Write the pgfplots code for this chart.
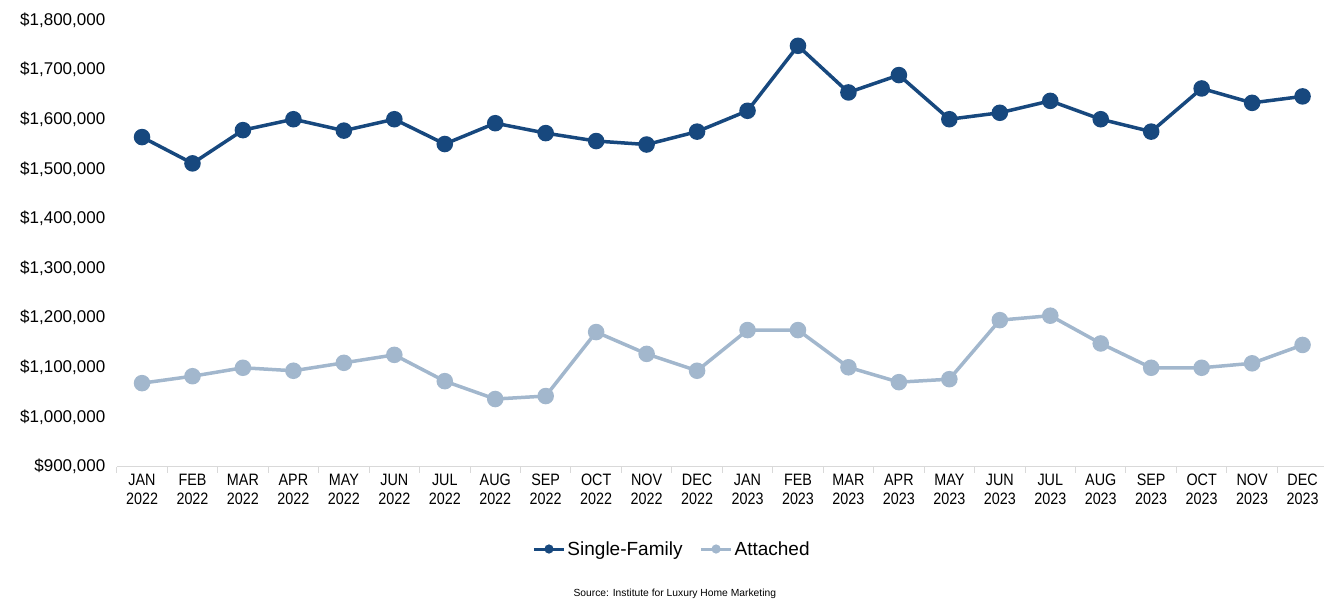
\documentclass[border=0pt]{standalone}
\usepackage{pgfplots}
\pgfplotsset{compat=1.18}
\usepackage{fontspec}
\setmainfont{Liberation Sans}
\definecolor{sfblue}{RGB}{23,72,126}
\definecolor{attblue}{RGB}{162,183,205}
\definecolor{axisgray}{RGB}{217,217,217}
\begin{document}
\begin{tikzpicture}
\begin{axis}[
  scale only axis, width=1211pt, height=446.5pt,
  xmin=-0.5, xmax=23.5, ymin=900000, ymax=1800000,
  clip=false,
  scaled y ticks=false,
  axis x line*=bottom, axis y line*=left,
  y axis line style={draw=none},
  x axis line style={draw=axisgray, line width=1.3pt, -},
  tick align=outside,
  major tick length=0pt, minor tick length=6pt,
  xtick={0,...,23},
  xticklabels={{JAN\\2022},{FEB\\2022},{MAR\\2022},{APR\\2022},{MAY\\2022},{JUN\\2022},{JUL\\2022},{AUG\\2022},{SEP\\2022},{OCT\\2022},{NOV\\2022},{DEC\\2022},{JAN\\2023},{FEB\\2023},{MAR\\2023},{APR\\2023},{MAY\\2023},{JUN\\2023},{JUL\\2023},{AUG\\2023},{SEP\\2023},{OCT\\2023},{NOV\\2023},{DEC\\2023}},
  minor xtick={-0.5,0.5,...,23.5},
  every minor x tick/.append style={draw=axisgray, line width=1pt},
  xtick style={draw=none},
  ytick style={draw=none},
  xticklabel style={align=center, font=\fontsize{16.5}{19}\selectfont, xscale=0.87, yshift=-4pt},
  ytick={900000,1000000,1100000,1200000,1300000,1400000,1500000,1600000,1700000,1800000},
  yticklabels={{\$900,000},{\$1,000,000},{\$1,100,000},{\$1,200,000},{\$1,300,000},{\$1,400,000},{\$1,500,000},{\$1,600,000},{\$1,700,000},{\$1,800,000}},
  yticklabel style={font=\fontsize{17}{20}\selectfont, anchor=east, xshift=-8pt},
  legend style={at={(axis description cs:0.4585,-0.1848)}, anchor=center, draw=none, fill=none,
    legend columns=2, font=\fontsize{19}{22}\selectfont,
    /tikz/every even column/.append style={column sep=15pt}},
  legend image code/.code={\draw[mark repeat=2, mark phase=2, #1, line width=3pt, mark size=3pt] plot coordinates {(0pt,0pt) (15pt,0pt) (30pt,0pt)};},
]
\addplot[color=sfblue, line width=3.5pt, mark=*, mark size=6.5pt] coordinates {
(0,1564000) (1,1511000) (2,1578000) (3,1600000) (4,1577000) (5,1600000)
(6,1550000) (7,1592000) (8,1572000) (9,1556000) (10,1549000) (11,1575000)
(12,1617000) (13,1748000) (14,1654000) (15,1689000) (16,1600000) (17,1613000)
(18,1637000) (19,1600000) (20,1575000) (21,1662000) (22,1633000) (23,1646000)};
\addlegendentry{Single-Family}
\addplot[color=attblue, line width=3.5pt, mark=*, mark size=6.5pt] coordinates {
(0,1068000) (1,1082000) (2,1099000) (3,1093000) (4,1109000) (5,1125000)
(6,1072000) (7,1036000) (8,1042000) (9,1171000) (10,1127000) (11,1093000)
(12,1175000) (13,1175000) (14,1100000) (15,1070000) (16,1076000) (17,1195000)
(18,1204000) (19,1148000) (20,1099000) (21,1099000) (22,1108000) (23,1145000)};
\addlegendentry{Attached}
\end{axis}
\node[font=\fontsize{10.3}{12}\selectfont] at (558pt,-127.5pt) {Source: Institute for Luxury Home Marketing};
\pgfresetboundingbox
\path (-116.8pt,-135.5pt) rectangle (1207.2pt,466.5pt);
\end{tikzpicture}
\end{document}
